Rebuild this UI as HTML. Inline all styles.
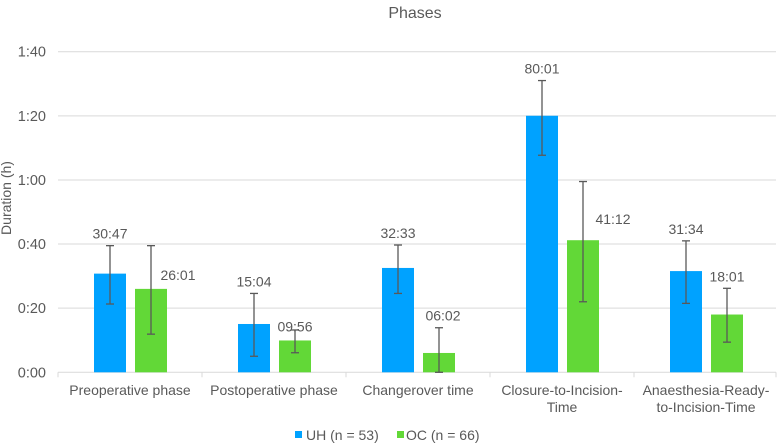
<!DOCTYPE html>
<html><head><meta charset="utf-8"><style>
body{margin:0;background:#fff;}
svg{display:block;font-family:"Liberation Sans",Arial,sans-serif;}
</style></head><body>
<svg id="chart" width="778" height="445"></svg>
<script>
const categories=[["Preoperative phase"],["Postoperative phase"],["Changerover time"],["Closure-to-Incision-","Time"],["Anaesthesia-Ready-","to-Incision-Time"]];
const uhValues=[30.78,15.07,32.55,80.02,31.57];
const ocValues=[26.02,9.93,6.03,41.2,18.02];
const uhLabels=["30:47","15:04","32:33","80:01","31:34"];
const ocLabels=["26:01","09:56","06:02","41:12","18:01"];
const uhErrHigh=[39.5,24.6,39.7,91.0,41.0];
const uhErrLow=[21.3,5.0,24.6,67.7,21.5];
const ocErrHigh=[39.5,13.2,13.9,59.5,26.2];
const ocErrLow=[11.9,6.1,0,22.0,9.4];
const yTicks=[0,20,40,60,80,100];
const yTickLabels=["0:00","0:20","0:40","1:00","1:20","1:40"];
const NS="http://www.w3.org/2000/svg";
const svg=document.getElementById('chart');
const X0=58,X1=778,Y0=372.3,Y1=51.7,YMAX=100;
const gw=(X1-X0)/categories.length;
function y(v){return Y0-(v/YMAX)*(Y0-Y1);}
function gx(i){return X0+gw*i;}
function mk(tag,attrs,parent){const e=document.createElementNS(NS,tag);for(const k in attrs)e.setAttribute(k,attrs[k]);(parent||svg).appendChild(e);return e;}
function txt(s,x,yy,anchor,size,parent){const t=mk('text',{x:x,y:yy,'text-anchor':anchor||'middle','font-size':size||14,fill:'#595959'},parent);t.textContent=s;return t;}
let t=txt("Phases",415,18,'middle',16);

t=txt("Duration (h)",0,0,'middle',14);
t.setAttribute('transform','translate(11,198) rotate(-90)');

yTicks.forEach((v,i)=>{
  const l=mk('line',{x1:X0,x2:776,y1:y(v),y2:y(v),stroke:'#d9d9d9','stroke-width':1});
  
  const tl=txt(yTickLabels[i],46,y(v)+5,'end',14.5);
  
});
for(let i=0;i<=categories.length;i++){
  const tk=mk('line',{x1:Math.min(gx(i),776),x2:Math.min(gx(i),776),y1:Y0,y2:Y0+5,stroke:'#d9d9d9'});
  
}
const ocDx=[27,0,4,30,0];
function errbar(cx,hi,lo,name){
  const g=mk('g',{stroke:'#595959','stroke-width':1.3});
  
  mk('line',{x1:cx,x2:cx,y1:y(hi),y2:y(lo)},g);
  mk('line',{x1:cx-4,x2:cx+4,y1:y(hi),y2:y(hi)},g);
  mk('line',{x1:cx-4,x2:cx+4,y1:y(lo),y2:y(lo)},g);
}
categories.forEach((c,i)=>{
  const cx=gx(i)+gw/2;
  const ux=cx-36,ox=cx+5,bw=32;
  const b1=mk('rect',{x:ux,y:y(uhValues[i]),width:bw,height:Y0-y(uhValues[i]),fill:'#00A2FF'});
  
  const b2=mk('rect',{x:ox,y:y(ocValues[i]),width:bw,height:Y0-y(ocValues[i]),fill:'#62D837'});
  
  errbar(ux+bw/2,uhErrHigh[i],uhErrLow[i],'error-bar-uh');
  errbar(ox+bw/2,ocErrHigh[i],ocErrLow[i],'error-bar-oc');
  const l1=txt(uhLabels[i],ux+bw/2,y(uhErrHigh[i])-7,'middle',14);
  
  const useBar=[true,true,false,true,false][i];
  const ly=useBar?y(ocValues[i])-[9,9,0,16,0][i]:y(ocErrHigh[i])-7;
  const l2=txt(ocLabels[i],ox+bw/2+ocDx[i],ly,'middle',14);
  
  c.forEach((line,k)=>{
    const xl=txt(line,cx,395+k*17,'middle',14);
    
  });
});
const lg=mk('g',{});

let r=mk('rect',{x:295,y:431,width:7,height:7,fill:'#00A2FF'},lg);

t=txt("UH (n = 53)",306,440,'start',14,lg);

r=mk('rect',{x:397,y:431,width:7,height:7,fill:'#62D837'},lg);

t=txt("OC (n = 66)",406,440,'start',14,lg);

</script>
</body></html>
